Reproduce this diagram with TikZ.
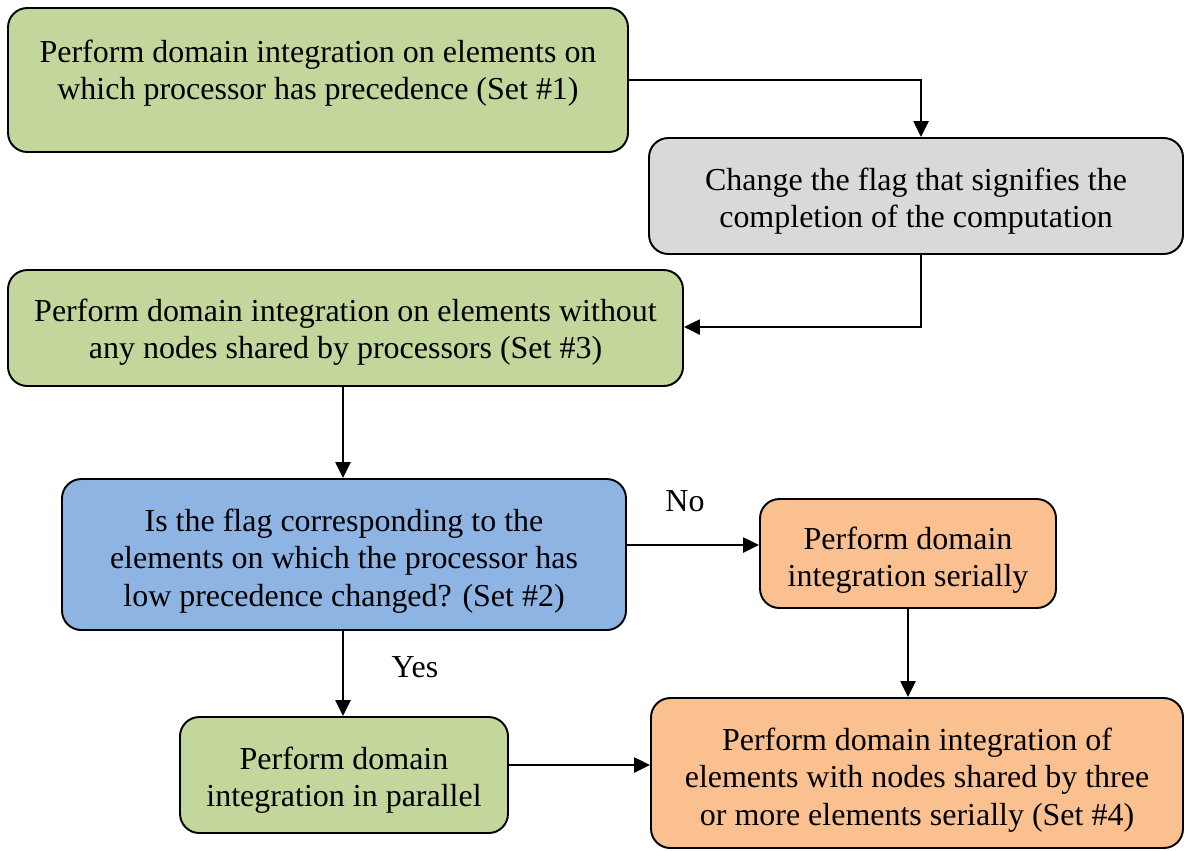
\documentclass[tikz,border=0pt]{standalone}
\usepackage{fontspec}
\setmainfont{Liberation Serif}
\usetikzlibrary{arrows.meta}
\definecolor{boxgreen}{HTML}{C3D69B}
\definecolor{boxgray}{HTML}{D9D9D9}
\definecolor{boxblue}{HTML}{8EB4E3}
\definecolor{boxorange}{HTML}{FAC090}
\tikzset{
  flowbox/.style={draw=black, line width=1.1pt, rounded corners=11pt, inner sep=0pt},
  boxtext/.style={align=center, inner sep=0pt, font=\fontsize{18.2}{21.2}\selectfont},
  flowarrow/.style={line width=1.2pt, -{Triangle[length=9pt,width=8.5pt]}},
  lbl/.style={font=\fontsize{18.2}{21.2}\selectfont}
}
\begin{document}
\begin{tikzpicture}[x=0.02cm, y=-0.02cm]
\useasboundingbox (0,0) rectangle (1185,850);
% process boxes, sized in pixel units of the layout grid
\node[flowbox, fill=boxgreen, minimum width=620*0.02cm, minimum height=144*0.02cm] (s1) at (318,80) {};
\node[flowbox, fill=boxgray, minimum width=534*0.02cm, minimum height=116*0.02cm] (flag) at (916,196) {};
\node[flowbox, fill=boxgreen, minimum width=675*0.02cm, minimum height=116*0.02cm] (s3) at (345.5,328) {};
\node[flowbox, fill=boxblue, minimum width=564*0.02cm, minimum height=151*0.02cm] (check) at (344,554.5) {};
\node[flowbox, fill=boxorange, minimum width=296*0.02cm, minimum height=109*0.02cm] (serial) at (908,553.5) {};
\node[flowbox, fill=boxgreen, minimum width=328*0.02cm, minimum height=116*0.02cm] (par) at (344,775) {};
\node[flowbox, fill=boxorange, minimum width=532*0.02cm, minimum height=150*0.02cm] (s4) at (917,773) {};
% box texts
\node[boxtext] (s1t) at (318,73)
  {Perform domain integration on elements on\\which processor has precedence (Set \#1)};
\node[boxtext] (flagt) at (916,201)
  {Change the flag that signifies the\\completion of the computation};
\node[boxtext] (s3t) at (345.5,332)
  {Perform domain integration on elements without\\any nodes shared by processors (Set \#3)};
\node[boxtext] (checkt) at (344,561)
  {Is the flag corresponding to the\\elements on which the processor has\\low precedence changed? (Set \#2)};
\node[boxtext] (serialt) at (908,560)
  {Perform domain\\integration serially};
\node[boxtext] (part) at (344,780)
  {Perform domain\\integration in parallel};
\node[boxtext] (s4t) at (917,780)
  {Perform domain integration of\\elements with nodes shared by three\\or more elements serially (Set \#4)};
% connectors
\coordinate (c1) at (921,80);
\coordinate (c2) at (921,327);
\draw[flowarrow] (s1.east |- c1) -- (c1) -- (c1 |- flag.north);
\draw[flowarrow] (c2 |- flag.south) -- (c2) -- (s3.east |- c2);
\draw[flowarrow] (s3.south -| 343,0) -- (check.north -| 343,0);
\draw[flowarrow] (check.east |- 0,545) -- (serial.west |- 0,545);
\draw[flowarrow] (check.south -| 343,0) -- (par.north -| 343,0);
\draw[flowarrow] (serial.south -| 908,0) -- (s4.north -| 908,0);
\draw[flowarrow] (par.east |- 0,765) -- (s4.west |- 0,765);
\node[lbl] (no) at (685,501) {No};
\node[lbl] (yes) at (415,667) {Yes};
\end{tikzpicture}
\end{document}
